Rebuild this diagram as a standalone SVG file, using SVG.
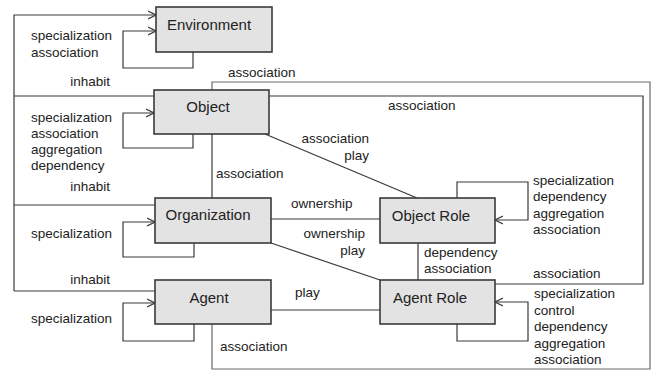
<svg xmlns="http://www.w3.org/2000/svg" width="655" height="371" viewBox="0 0 655 371">
<style>
.box{fill:#e3e3e3;stroke:#3a3a3a;stroke-width:1.6}
.ln{fill:none;stroke:#3a3a3a;stroke-width:1.2}
.lg{stroke:#6a6a6a}
.t{font-family:"Liberation Sans",Arial,sans-serif;font-size:13.5px;fill:#222}
.bt{font-family:"Liberation Sans",Arial,sans-serif;font-size:15px;fill:#222;text-anchor:middle}
.e{text-anchor:end}
</style>
<defs>
<marker id="ar" viewBox="0 0 8 10" refX="8" refY="5" markerWidth="8" markerHeight="10" markerUnits="userSpaceOnUse" orient="auto">
<path d="M0,1 L8,5 L0,9" fill="none" stroke="#3a3a3a" stroke-width="1.2"/>
</marker>
</defs>
<rect width="655" height="371" fill="#fff"/>
<g id="connectors">
<path class="ln" d="M14,291 V15 H156" marker-end="url(#ar)"/>
<path class="ln" d="M14,96 H154"/>
<path class="ln" d="M14,205 H155"/>
<path class="ln" d="M14,291 H155"/>
<path class="ln" d="M193,52 V68 H123 V31 H156" marker-end="url(#ar)"/>
<path class="ln" d="M193,134 V148 H123 V113 H154" marker-end="url(#ar)"/>
<path class="ln" d="M194,243 V257 H123 V222 H155" marker-end="url(#ar)"/>
<path class="ln" d="M194,324 V341 H123 V303 H155" marker-end="url(#ar)"/>
<path class="ln" d="M457,198 V182 H528 V220 H495" marker-end="url(#ar)"/>
<path class="ln" d="M457,324 V341 H528 V302 H495" marker-end="url(#ar)"/>
<path class="ln lg" d="M212,90 V82 H650 V369 H212 V324"/>
<path class="ln" d="M269,96 H643 V284 H495"/>
<path class="ln" d="M212,134 V198"/>
<path class="ln" d="M265,134 L417,198"/>
<path class="ln" d="M271,219 H380"/>
<path class="ln" d="M271,243 L380,280"/>
<path class="ln" d="M271,310 H380"/>
<path class="ln" d="M418,243 V280"/>
</g>
<g id="environment">
<rect class="box" x="156" y="7" width="116" height="45"/>
<text class="bt" x="209" y="30">Environment</text>
</g>
<g id="object">
<rect class="box" x="154" y="90" width="115" height="44"/>
<text class="bt" x="208" y="112">Object</text>
</g>
<g id="organization">
<rect class="box" x="155" y="198" width="116" height="45"/>
<text class="bt" x="208" y="220">Organization</text>
</g>
<g id="agent">
<rect class="box" x="155" y="280" width="116" height="44"/>
<text class="bt" x="209" y="303">Agent</text>
</g>
<g id="object-role">
<rect class="box" x="380" y="198" width="115" height="45"/>
<text class="bt" x="431" y="221">Object Role</text>
</g>
<g id="agent-role">
<rect class="box" x="380" y="280" width="115" height="44"/>
<text class="bt" x="430" y="303">Agent Role</text>
</g>
<g id="labels">
<text class="t" x="31" y="40">specialization</text>
<text class="t" x="31" y="56.5">association</text>
<text class="t e" x="110" y="86">inhabit</text>
<text class="t" x="31" y="122">specialization</text>
<text class="t" x="31" y="138">association</text>
<text class="t" x="31" y="154">aggregation</text>
<text class="t" x="31" y="170">dependency</text>
<text class="t e" x="110" y="191">inhabit</text>
<text class="t" x="31" y="238">specialization</text>
<text class="t e" x="110" y="284">inhabit</text>
<text class="t" x="31" y="323">specialization</text>
<text class="t" x="228" y="76.5">association</text>
<text class="t" x="388" y="109.5">association</text>
<text class="t e" x="369" y="142.5">association</text>
<text class="t e" x="369" y="159.5">play</text>
<text class="t" x="216" y="177.5">association</text>
<text class="t" x="291" y="207.5">ownership</text>
<text class="t e" x="365" y="237.5">ownership</text>
<text class="t e" x="365" y="254.5">play</text>
<text class="t" x="295" y="296.5">play</text>
<text class="t" x="220" y="350.5">association</text>
<text class="t" x="424" y="256.5">dependency</text>
<text class="t" x="424" y="272.5">association</text>
<text class="t" x="533" y="184.5">specialization</text>
<text class="t" x="533" y="201">dependency</text>
<text class="t" x="533" y="217.5">aggregation</text>
<text class="t" x="533" y="234">association</text>
<text class="t" x="533" y="277.5">association</text>
<text class="t" x="534" y="298">specialization</text>
<text class="t" x="534" y="314.5">control</text>
<text class="t" x="534" y="331">dependency</text>
<text class="t" x="534" y="347.5">aggregation</text>
<text class="t" x="534" y="364">association</text>
</g>
</svg>
